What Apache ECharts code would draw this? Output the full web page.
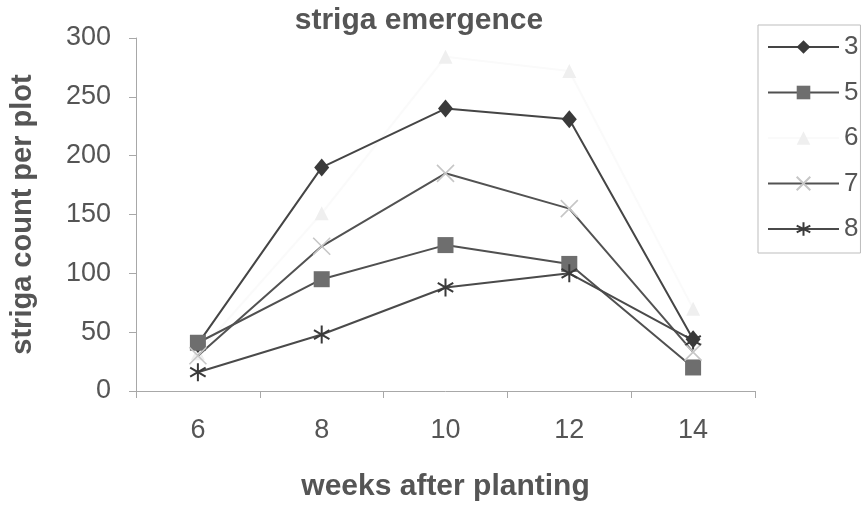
<!DOCTYPE html>
<html>
<head>
<meta charset="utf-8">
<script src="https://cdn.jsdelivr.net/npm/echarts@6/dist/echarts.min.js"></script>
<style>
html,body{margin:0;padding:0;background:#fff;}
#chart{width:863px;height:507px;}
</style>
</head>
<body>
<div id="chart"></div>
<script>
var weeks = ['6', '8', '10', '12', '14'];
var seriesNames = ['3', '5', '6', '7', '8'];
var s3 = [40, 190, 240, 231, 44];
var s5 = [41, 95, 124, 108, 20];
var s6 = [32, 151, 284, 272, 70];
var s7 = [30, 123, 185, 155, 33];
var s8 = [16, 48, 88, 100, 43];
var yTicks = [0, 50, 100, 150, 200, 250, 300];

var FONT = '"Liberation Sans", Arial, Helvetica, sans-serif';
var TXT = '#555555';
var X_PATH = 'path://M0,0L10,10M10,0L0,10';
var STAR_PATH = 'path://M5,0L5,10M0.7,2.5L9.3,7.5M9.3,2.5L0.7,7.5';

function mk(name, data, opts) {
  return {
    name: name,
    type: 'line',
    data: data,
    symbol: opts.symbol,
    symbolSize: opts.size,
    symbolKeepAspect: true,
    showAllSymbol: true,
    lineStyle: { color: opts.line, width: 2 },
    itemStyle: {
      color: opts.fill,
      borderColor: opts.border || opts.fill,
      borderWidth: opts.bw || 0
    },
    emphasis: { disabled: true },
    z: opts.z
  };
}

var chart = echarts.init(document.getElementById('chart'), null, { renderer: 'canvas' });
chart.setOption({
  animation: false,
  backgroundColor: '#ffffff',
  title: {
    text: 'striga emergence',
    left: 414,
    textAlign: 'center',
    top: 1,
    textStyle: { fontFamily: FONT, fontSize: 30, fontWeight: 'bold', color: TXT }
  },
  grid: { left: 135, right: 108, top: 38, bottom: 110, containLabel: false },
  legend: {
    orient: 'vertical',
    left: 758,
    top: 25,
    data: seriesNames,
    itemWidth: 71,
    itemHeight: 17,
    itemGap: 19.5,
    padding: [9, 2, 11, 9],
    borderColor: '#bdbdbd',
    borderWidth: 1,
    textStyle: { fontFamily: FONT, fontSize: 26, color: TXT, lineHeight: 26, padding: [0, 0, 0, 0] },
    selectedMode: false
  },
  xAxis: {
    type: 'category',
    data: weeks,
    boundaryGap: true,
    name: 'weeks after planting',
    nameLocation: 'middle',
    nameGap: 81,
    nameTextStyle: { fontFamily: FONT, fontSize: 30, fontWeight: 'bold', color: TXT },
    axisLine: { show: true, lineStyle: { color: '#a8a8a8', width: 1 } },
    axisTick: { show: true, length: 7, lineStyle: { color: '#a8a8a8' } },
    axisLabel: { fontFamily: FONT, fontSize: 27, color: TXT, margin: 26 },
    splitLine: { show: false }
  },
  yAxis: {
    type: 'value',
    min: 0,
    max: 300,
    interval: 50,
    name: 'striga count per plot',
    nameLocation: 'middle',
    nameGap: 99,
    nameTextStyle: { fontFamily: FONT, fontSize: 29, fontWeight: 'bold', color: TXT },
    axisLine: { show: true, lineStyle: { color: '#a8a8a8', width: 1 } },
    axisTick: { show: true, length: 7, lineStyle: { color: '#a8a8a8' } },
    axisLabel: {
      fontFamily: FONT, fontSize: 27, color: TXT, margin: 25,
      formatter: function (v) { return yTicks.indexOf(v) >= 0 ? String(v) : ''; }
    },
    splitLine: { show: false }
  },
  series: [
    mk('3', s3, { symbol: 'diamond', size: [15, 18], line: '#454545', fill: '#3a3a3a', z: 3 }),
    mk('5', s5, { symbol: 'rect', size: 16, line: '#505050', fill: '#6e6e6e', z: 4 }),
    mk('6', s6, { symbol: 'triangle', size: 14, line: '#fafafa', fill: '#efefef', z: 2 }),
    mk('7', s7, { symbol: X_PATH, size: 17, line: '#525252', fill: '#c6c6c6', border: '#c6c6c6', bw: 1.6, z: 5 }),
    mk('8', s8, { symbol: STAR_PATH, size: 18, line: '#4a4a4a', fill: '#3a3a3a', border: '#3a3a3a', bw: 2, z: 6 })
  ]
});
</script>
</body>
</html>
